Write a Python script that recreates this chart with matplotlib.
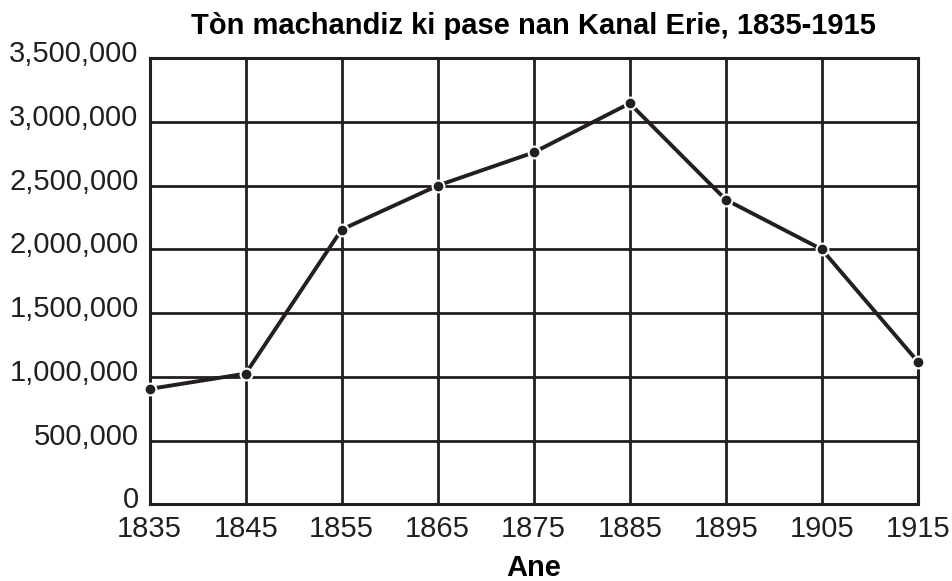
import matplotlib.pyplot as plt
import matplotlib.transforms as mtransforms
from matplotlib.ticker import FuncFormatter

years = [1835, 1845, 1855, 1865, 1875, 1885, 1895, 1905, 1915]
tons = [905000, 1025000, 2155000, 2500000, 2760000, 3145000, 2390000, 2000000, 1120000]

plt.rcParams['font.family'] = ['Liberation Sans', 'DejaVu Sans']

fig = plt.figure(figsize=(9.53, 5.81), dpi=100)
ax = fig.add_axes([0.157, 0.132, 0.806, 0.768])

ax.plot(years, tons, color='#231f20', linewidth=2.8, marker='o', markersize=8.5,
        markerfacecolor='#231f20', markeredgecolor='white', markeredgewidth=1.5,
        zorder=5, clip_on=False)

ax.set_xlim(1835, 1915)
ax.set_ylim(0, 3500000)
ax.set_xticks(years)
ax.set_yticks(range(0, 3500001, 500000))
ax.yaxis.set_major_formatter(FuncFormatter(lambda v, p: f"{int(v):,}"))
ax.grid(True, color='#231f20', linewidth=2)
ax.set_axisbelow(True)
for s in ax.spines.values():
    s.set_color('#231f20')
    s.set_linewidth(2.2)
ax.tick_params(length=0, labelsize=21, colors='#231f20')
ax.tick_params(axis='y', pad=8)
ax.tick_params(axis='x', pad=7.5)

# nudge y labels up a little so "0" clears "1835"
up = mtransforms.ScaledTranslation(0, 5 / 72, fig.dpi_scale_trans)
for lab in ax.get_yticklabels():
    lab.set_transform(lab.get_transform() + up)

ax.set_title("Tòn machandiz ki pase nan Kanal Erie, 1835-1915",
             fontsize=21, fontweight='bold', pad=17)
ax.set_xlabel("Ane", fontsize=21, fontweight='bold', labelpad=8)

fig.savefig("out.png", dpi=100)
